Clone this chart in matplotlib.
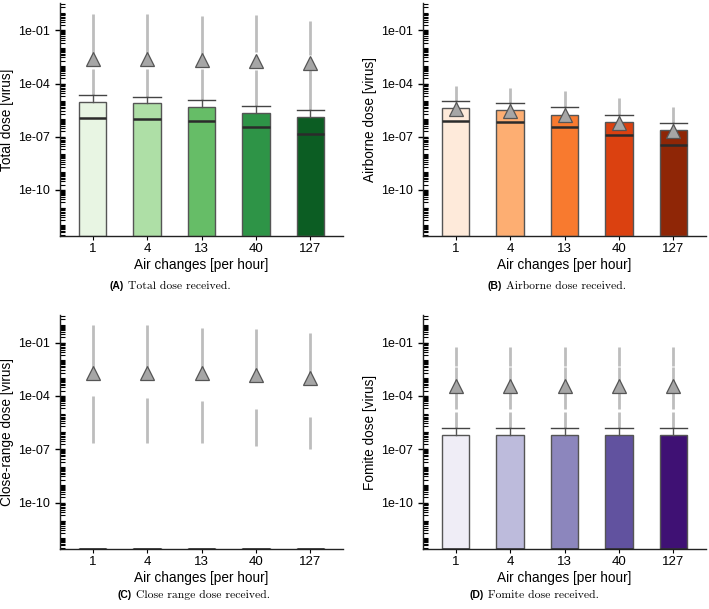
import numpy as np
import matplotlib
matplotlib.use("Agg")
import matplotlib.pyplot as plt
import matplotlib.ticker as mticker

# === data (doses in virus) ===
categories = ["1", "4", "13", "40", "127"]

total_q3 = [9.3e-6, 7.6e-6, 4.5e-6, 2.1e-6, 1.3e-6]
total_median = [1.2e-6, 1.05e-6, 7.4e-7, 3.7e-7, 1.45e-7]
total_whishi = [2.4e-5, 1.8e-5, 1.2e-5, 5.4e-6, 3.2e-6]
total_mean = [2.6e-3, 2.5e-3, 2.2e-3, 1.9e-3, 1.4e-3]
total_fliers = [
    [(2.4e-5, 6.3e-4), (5.6e-3, 0.87)],
    [(1.8e-5, 6.3e-4), (5.6e-3, 0.87)],
    [(1.2e-5, 6.3e-4), (5.0e-3, 0.69)],
    [(5.4e-6, 6.2e-4), (6.0e-3, 0.70)],
    [(3.2e-6, 1.0e-3), (4.0e-3, 0.33)],
]

airborne_q3 = [4.0e-6, 3.1e-6, 1.65e-6, 6.7e-7, 2.3e-7]
airborne_median = [8.1e-7, 6.7e-7, 3.7e-7, 1.2e-7, 3.5e-8]
airborne_whishi = [1.0e-5, 7.9e-6, 4.5e-6, 1.7e-6, 6.2e-7]
airborne_mean = [3.8e-6, 2.9e-6, 1.65e-6, 6.3e-7, 2.2e-7]
airborne_fliers = [
    [(1.0e-5, 7.0e-5)],
    [(7.9e-6, 6.0e-5)],
    [(4.5e-6, 3.9e-5)],
    [(1.7e-6, 1.45e-5)],
    [(6.2e-7, 4.9e-6)],
]

close_q3 = [0, 0, 0, 0, 0]
close_median = [0, 0, 0, 0, 0]
close_whishi = [0, 0, 0, 0, 0]
close_mean = [2.0e-3, 2.0e-3, 1.9e-3, 1.45e-3, 1.0e-3]
close_fliers = [
    [(2.4e-7, 1.0e-4), (4.0e-3, 0.93)],
    [(2.4e-7, 8.1e-5), (4.0e-3, 0.93)],
    [(2.2e-7, 5.2e-5), (3.2e-3, 0.69)],
    [(1.55e-7, 1.95e-5), (2.6e-3, 0.56)],
    [(1.0e-7, 6.2e-6), (1.65e-3, 0.33)],
]

fomite_q3 = [6.1e-7] * 5
fomite_median = [0] * 5
fomite_whishi = [1.5e-6] * 5
fomite_mean = [3.5e-4] * 5
fomite_fliers = [[(1.5e-6, 1.2e-5), (1.8e-5, 1.5e-4), (7e-4, 4e-3), (5e-3, 6e-2)]] * 5

ylabels = ["Total dose [virus]", "Airborne dose [virus]",
           "Close-range dose [virus]", "Fomite dose [virus]"]
captions = [("(A)", "Total dose received."), ("(B)", "Airborne dose received."),
            ("(C)", "Close range dose received."), ("(D)", "Fomite dose received.")]
palettes = [
    ["#e8f5e3", "#aedfa6", "#66bd67", "#2e9447", "#0c5d23"],
    ["#feeada", "#fdae72", "#f87a2f", "#db4110", "#8f2606"],
    ["#e3eef8", "#abcfe5", "#5fa2ce", "#2171b5", "#0b4a8f"],
    ["#efedf6", "#bdbbdc", "#8c86bd", "#61529f", "#3f1174"],
]

panels = [
    (total_q3, total_median, total_whishi, total_mean, total_fliers),
    (airborne_q3, airborne_median, airborne_whishi, airborne_mean, airborne_fliers),
    (close_q3, close_median, close_whishi, close_mean, close_fliers),
    (fomite_q3, fomite_median, fomite_whishi, fomite_mean, fomite_fliers),
]

# === layout ===
W, H = 709, 609
ymin, ymax = 10 ** -12.6, 10 ** 0.55
fig = plt.figure(figsize=(W / 100, H / 100), dpi=100)
plt.rcParams['font.family'] = ['Liberation Sans', 'DejaVu Sans']

# axes boxes in pixels: left, top, right, bottom
boxes = [(60, 3, 343, 236), (423, 3, 706, 236),
         (60, 315, 343, 549), (423, 315, 706, 549)]
caption_pos = [(110, 286), (487, 286), (118, 595), (470, 595)]

for i, (q3, med, whishi, mean, fliers) in enumerate(panels):
    l, t, r, b = boxes[i]
    ax = fig.add_axes([l / W, 1 - b / H, (r - l) / W, (b - t) / H])
    ax.set_yscale("log")
    ax.set_ylim(ymin, ymax)
    ax.set_xlim(-0.6, 4.6)

    colors = palettes[i]
    pos = np.arange(len(categories))

    # flier streaks
    for j, segs in enumerate(fliers):
        for lo, hi in segs:
            ax.vlines(pos[j], lo, hi, color="#bdbdbd", lw=2.0, zorder=2)

    # boxes (lower quartile and whisker sit at zero -> clipped to axis floor)
    stats = []
    for j in range(len(categories)):
        stats.append(dict(
            q1=ymin, q3=max(q3[j], ymin), med=max(med[j], ymin),
            whislo=ymin, whishi=max(whishi[j], ymin), fliers=[]))
    bp = ax.bxp(stats, positions=pos, widths=0.5, patch_artist=True,
                showfliers=False, capwidths=0.5,
                boxprops=dict(edgecolor="#555555", linewidth=1.0),
                medianprops=dict(color="#2b2b2b", linewidth=1.8),
                whiskerprops=dict(color="#555555", linewidth=1.0),
                capprops=dict(color="#444444", linewidth=1.0),
                manage_ticks=False)
    for patch, c in zip(bp["boxes"], colors):
        patch.set_facecolor(c)
        patch.set_zorder(3)
    for key in ("medians", "whiskers", "caps"):
        for ln in bp[key]:
            ln.set_zorder(4)

    # means
    ax.plot(pos, mean, linestyle="none", marker="^", markersize=9.5,
            markerfacecolor="#a6a6a6", markeredgecolor="#555555",
            markeredgewidth=0.9, zorder=5)

    # axes styling
    ax.spines["top"].set_visible(False)
    ax.spines["right"].set_visible(False)
    for s in ("left", "bottom"):
        ax.spines[s].set_color("#222222")
        ax.spines[s].set_linewidth(1.0)

    ax.set_xticks(pos)
    ax.set_xticklabels(categories, fontsize=9.5)
    ax.tick_params(axis="x", direction="out", length=3, width=0.8, pad=2)

    ax.yaxis.set_major_locator(mticker.FixedLocator([1e-1, 1e-4, 1e-7, 1e-10]))
    ax.yaxis.set_major_formatter(mticker.FuncFormatter(lambda v, p: f"{v:.0e}"))
    ax.yaxis.set_minor_locator(mticker.LogLocator(base=10, subs=np.arange(1, 10), numticks=200))
    ax.yaxis.set_minor_formatter(mticker.NullFormatter())
    ax.tick_params(axis="y", which="major", direction="inout", length=7, width=1.0,
                   labelsize=9, pad=4)
    ax.tick_params(axis="y", which="minor", direction="in", length=3.5, width=0.8)

    ax.set_xlabel("Air changes [per hour]", fontsize=9.8, labelpad=2)
    ax.set_ylabel(ylabels[i], fontsize=9.8, labelpad=3)

    # caption
    cx, cy = caption_pos[i]
    tag, text = captions[i]
    tb = fig.text(cx / W, 1 - cy / H, tag, fontsize=7.5, fontweight="bold",
                  ha="left", va="center")
    ax.annotate(text, xy=(1, 0.5), xycoords=tb, xytext=(3, 0),
                textcoords="offset points", fontsize=8.4, family="cmr10",
                ha="left", va="center")

fig.savefig("out.png", dpi=100)
